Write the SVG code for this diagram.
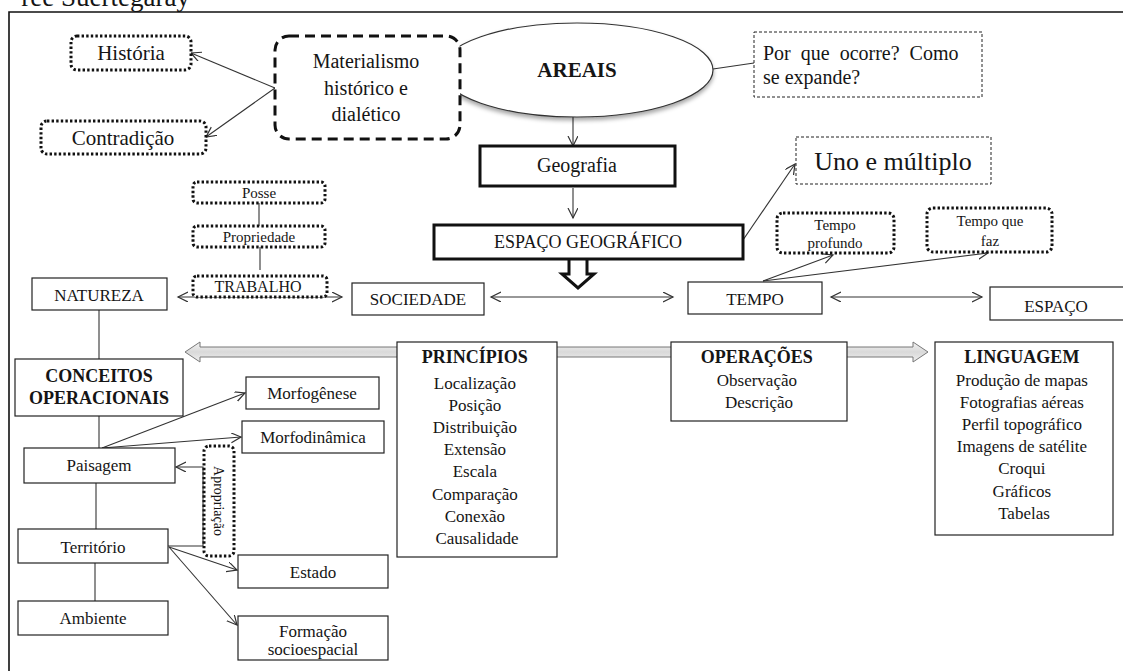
<svg xmlns="http://www.w3.org/2000/svg" width="1123" height="671" viewBox="0 0 1123 671">
  <style>
    .box { fill: #fff; stroke: #222; stroke-width: 1.2; }
    .thick { stroke-width: 3; stroke: #111; }
    .dot { fill: #fff; stroke: #111; stroke-width: 3; stroke-dasharray: 2.4 2.2; }
    .dash { fill: #fff; stroke: #222; stroke-width: 1; stroke-dasharray: 3 2; }
    .t { font-family: "Liberation Serif", "Times New Roman", serif; font-size: 17px; fill: #151515; text-anchor: middle; }
    .b { font-weight: bold; }
    .l { text-anchor: start; }
    .c { fill: none; stroke: #333; stroke-width: 1.1; }
  </style>
  <defs>
    <marker id="ah" markerWidth="12" markerHeight="12" refX="10" refY="5" orient="auto-start-reverse" markerUnits="userSpaceOnUse">
      <path d="M0,0 L10,5 L0,10" fill="none" stroke="#333" stroke-width="1.2"/>
    </marker>
    <filter id="shadow" x="-10%" y="-20%" width="120%" height="150%">
      <feDropShadow dx="0" dy="3" stdDeviation="2" flood-color="#000" flood-opacity="0.35"/>
    </filter>
    <linearGradient id="gray" x1="0" y1="0" x2="0" y2="1">
      <stop offset="0" stop-color="#f4f4f4"/>
      <stop offset="0.5" stop-color="#d9d9d9"/>
      <stop offset="1" stop-color="#f0f0f0"/>
    </linearGradient>
  </defs>

  <rect width="1123" height="671" fill="#fff"/>

  <!-- source caption, partly outside the page -->
  <text x="190" y="6" class="t" style="font-size:27px;text-anchor:end">ree Suertegaray</text>

  <!-- frame -->
  <path d="M9,671 V12 H1123" fill="none" stroke="#111" stroke-width="1.6"/>

  <!-- connectors -->
  <g id="connectors">
    <line class="c" x1="275" y1="88" x2="191" y2="53" marker-end="url(#ah)"/>
    <line class="c" x1="275" y1="88" x2="206" y2="137" marker-end="url(#ah)"/>
    <line class="c" x1="713" y1="69" x2="754" y2="63"/>
    <line class="c" x1="573" y1="117" x2="573" y2="146" marker-end="url(#ah)"/>
    <line class="c" x1="573" y1="188" x2="573" y2="218" marker-end="url(#ah)"/>
    <line class="c" x1="743" y1="240" x2="795" y2="164" marker-end="url(#ah)"/>
    <line class="c" x1="763" y1="281" x2="833" y2="255" marker-end="url(#ah)"/>
    <line class="c" x1="763" y1="281" x2="988" y2="253" marker-end="url(#ah)"/>
    <line class="c" x1="259" y1="203" x2="259" y2="226"/>
    <line class="c" x1="260" y1="247" x2="260" y2="270"/>
    <line class="c" x1="178" y1="297" x2="342" y2="297" marker-start="url(#ah)" marker-end="url(#ah)"/>
    <line class="c" x1="491" y1="297" x2="673" y2="297" marker-start="url(#ah)" marker-end="url(#ah)"/>
    <line class="c" x1="831" y1="297" x2="982" y2="297" marker-start="url(#ah)" marker-end="url(#ah)"/>
    <line class="c" x1="99" y1="310" x2="99" y2="359"/>
    <line class="c" x1="99" y1="416" x2="99" y2="448"/>
    <line class="c" x1="96" y1="483" x2="96" y2="529"/>
    <line class="c" x1="95" y1="563" x2="95" y2="601"/>
    <line class="c" x1="102" y1="448" x2="245" y2="393" marker-end="url(#ah)"/>
    <line class="c" x1="102" y1="448" x2="241" y2="437" marker-end="url(#ah)"/>
    <path class="c" d="M168,546 H203 V467 H176" marker-end="url(#ah)"/>
    <line class="c" x1="169" y1="547" x2="237" y2="570" marker-end="url(#ah)"/>
    <line class="c" x1="169" y1="547" x2="237" y2="625" marker-end="url(#ah)"/>
    <!-- wide double arrow linking principles, operations and language -->
    <path d="M185,352 L200,342 L200,347 L913,347 L913,342 L928,352 L913,362 L913,357 L200,357 L200,362 Z" fill="url(#gray)" stroke="#777" stroke-width="1"/>
    <!-- hollow block arrow under the geographic space -->
    <path d="M569,259 V274 H562 L578,288 L594,274 H587 V259" fill="#fff" stroke="#111" stroke-width="3" stroke-linejoin="miter"/>
  </g>

  <g id="areais">
    <ellipse cx="577" cy="70" rx="136" ry="47" fill="#fff" stroke="#333" stroke-width="1.2" filter="url(#shadow)"/>
    <text x="577" y="77" class="t b" style="font-size:21px">AREAIS</text>
  </g>

  <g id="historia">
    <rect x="71" y="36" width="120" height="34" rx="6" class="dot"/>
    <text x="131" y="60" class="t" style="font-size:21px">História</text>
  </g>

  <g id="contradicao">
    <rect x="41" y="121" width="165" height="33" rx="6" class="dot"/>
    <text x="123" y="145" class="t" style="font-size:21px">Contradição</text>
  </g>

  <g id="materialismo">
    <rect x="275" y="36" width="185" height="103" rx="14" fill="#fff" stroke="#111" stroke-width="3" stroke-dasharray="10 6"/>
    <text class="t" style="font-size:20px"><tspan x="366" y="68">Materialismo</tspan><tspan x="366" y="95">histórico e</tspan><tspan x="366" y="121">dialético</tspan></text>
  </g>

  <g id="porque">
    <rect x="754" y="32" width="228" height="65" class="dash"/>
    <text class="t l" style="font-size:20px"><tspan x="763" y="60" word-spacing="5">Por que ocorre? Como</tspan><tspan x="763" y="84">se expande?</tspan></text>
  </g>

  <g id="geografia">
    <rect x="480" y="146" width="195" height="40" class="box thick"/>
    <text x="577" y="172" class="t" style="font-size:20px">Geografia</text>
  </g>

  <g id="espaco-geografico">
    <rect x="434" y="225" width="309" height="34" class="box thick"/>
    <text x="588" y="248" class="t" style="font-size:18px">ESPAÇO GEOGRÁFICO</text>
  </g>

  <g id="uno">
    <rect x="796" y="137" width="195" height="47" class="dash"/>
    <text x="893" y="170" class="t" style="font-size:26px">Uno e múltiplo</text>
  </g>

  <g id="tempo-profundo">
    <rect x="777" y="213" width="117" height="40" rx="6" class="dot"/>
    <text class="t" style="font-size:15px"><tspan x="835" y="230">Tempo</tspan><tspan x="835" y="248">profundo</tspan></text>
  </g>

  <g id="tempo-que-faz">
    <rect x="927" y="208" width="125" height="44" rx="6" class="dot"/>
    <text class="t" style="font-size:15px"><tspan x="990" y="226">Tempo que</tspan><tspan x="990" y="246">faz</tspan></text>
  </g>

  <g id="posse">
    <rect x="193" y="182" width="132" height="21" rx="4" class="dot"/>
    <text x="259" y="198" class="t" style="font-size:15px">Posse</text>
  </g>

  <g id="propriedade">
    <rect x="193" y="226" width="132" height="21" rx="4" class="dot"/>
    <text x="259" y="242" class="t" style="font-size:15px">Propriedade</text>
  </g>

  <g id="trabalho">
    <rect x="193" y="276" width="134" height="21" rx="4" class="dot"/>
    <text x="258" y="292" class="t" style="font-size:16px">TRABALHO</text>
  </g>

  <g id="natureza">
    <rect x="32" y="278" width="135" height="32" class="box"/>
    <text x="99" y="301" class="t">NATUREZA</text>
  </g>

  <g id="sociedade">
    <rect x="352" y="283" width="132" height="32" class="box"/>
    <text x="418" y="305" class="t">SOCIEDADE</text>
  </g>

  <g id="tempo">
    <rect x="688" y="282" width="134" height="32" class="box"/>
    <text x="755" y="305" class="t">TEMPO</text>
  </g>

  <g id="espaco">
    <rect x="990" y="287" width="140" height="33" class="box"/>
    <text x="1056" y="312" class="t">ESPAÇO</text>
  </g>

  <g id="principios">
    <rect x="397" y="342" width="160" height="215" class="box"/>
    <text class="t">
      <tspan x="477" y="363" class="b" style="font-size:18px">PRINCÍPIOS</tspan>
      <tspan x="477" y="389">Localização</tspan>
      <tspan x="477" y="411">Posição</tspan>
      <tspan x="477" y="433">Distribuição</tspan>
      <tspan x="477" y="455">Extensão</tspan>
      <tspan x="477" y="477">Escala</tspan>
      <tspan x="477" y="500">Comparação</tspan>
      <tspan x="477" y="522">Conexão</tspan>
      <tspan x="477" y="544">Causalidade</tspan>
    </text>
  </g>

  <g id="operacoes">
    <rect x="671" y="342" width="176" height="79" class="box"/>
    <text class="t">
      <tspan x="759" y="363" class="b" style="font-size:18px">OPERAÇÕES</tspan>
      <tspan x="759" y="386">Observação</tspan>
      <tspan x="759" y="408">Descrição</tspan>
    </text>
  </g>

  <g id="linguagem">
    <rect x="935" y="342" width="178" height="193" class="box"/>
    <text class="t">
      <tspan x="1024" y="363" class="b" style="font-size:18px">LINGUAGEM</tspan>
      <tspan x="1024" y="386">Produção de mapas</tspan>
      <tspan x="1024" y="408">Fotografias  aéreas</tspan>
      <tspan x="1024" y="430">Perfil  topográfico</tspan>
      <tspan x="1024" y="452">Imagens  de satélite</tspan>
      <tspan x="1024" y="474">Croqui</tspan>
      <tspan x="1024" y="497">Gráficos</tspan>
      <tspan x="1024" y="519">Tabelas</tspan>
    </text>
  </g>

  <g id="conceitos">
    <rect x="15" y="359" width="168" height="57" class="box"/>
    <text class="t b" style="font-size:18px"><tspan x="99" y="382">CONCEITOS</tspan><tspan x="99" y="404">OPERACIONAIS</tspan></text>
  </g>

  <g id="paisagem">
    <rect x="24" y="448" width="151" height="35" class="box"/>
    <text x="99" y="471" class="t">Paisagem</text>
  </g>

  <g id="territorio">
    <rect x="18" y="529" width="150" height="34" class="box"/>
    <text x="93" y="553" class="t">Território</text>
  </g>

  <g id="ambiente">
    <rect x="18" y="601" width="150" height="34" class="box"/>
    <text x="93" y="624" class="t">Ambiente</text>
  </g>

  <g id="morfogenese">
    <rect x="246" y="377" width="133" height="32" class="box"/>
    <text x="312" y="399" class="t">Morfogênese</text>
  </g>

  <g id="morfodinamica">
    <rect x="242" y="421" width="142" height="32" class="box"/>
    <text x="313" y="443" class="t">Morfodinâmica</text>
  </g>

  <g id="apropriacao">
    <rect x="204" y="446" width="30" height="110" rx="5" class="dot"/>
    <text transform="translate(214,501) rotate(90)" x="0" y="0" class="t" style="font-size:14px">Apropriação</text>
  </g>

  <g id="estado">
    <rect x="238" y="555" width="150" height="33" class="box"/>
    <text x="313" y="578" class="t">Estado</text>
  </g>

  <g id="formacao">
    <rect x="238" y="616" width="150" height="44" class="box"/>
    <text class="t"><tspan x="313" y="637">Formação</tspan><tspan x="313" y="655">socioespacial</tspan></text>
  </g>
</svg>
